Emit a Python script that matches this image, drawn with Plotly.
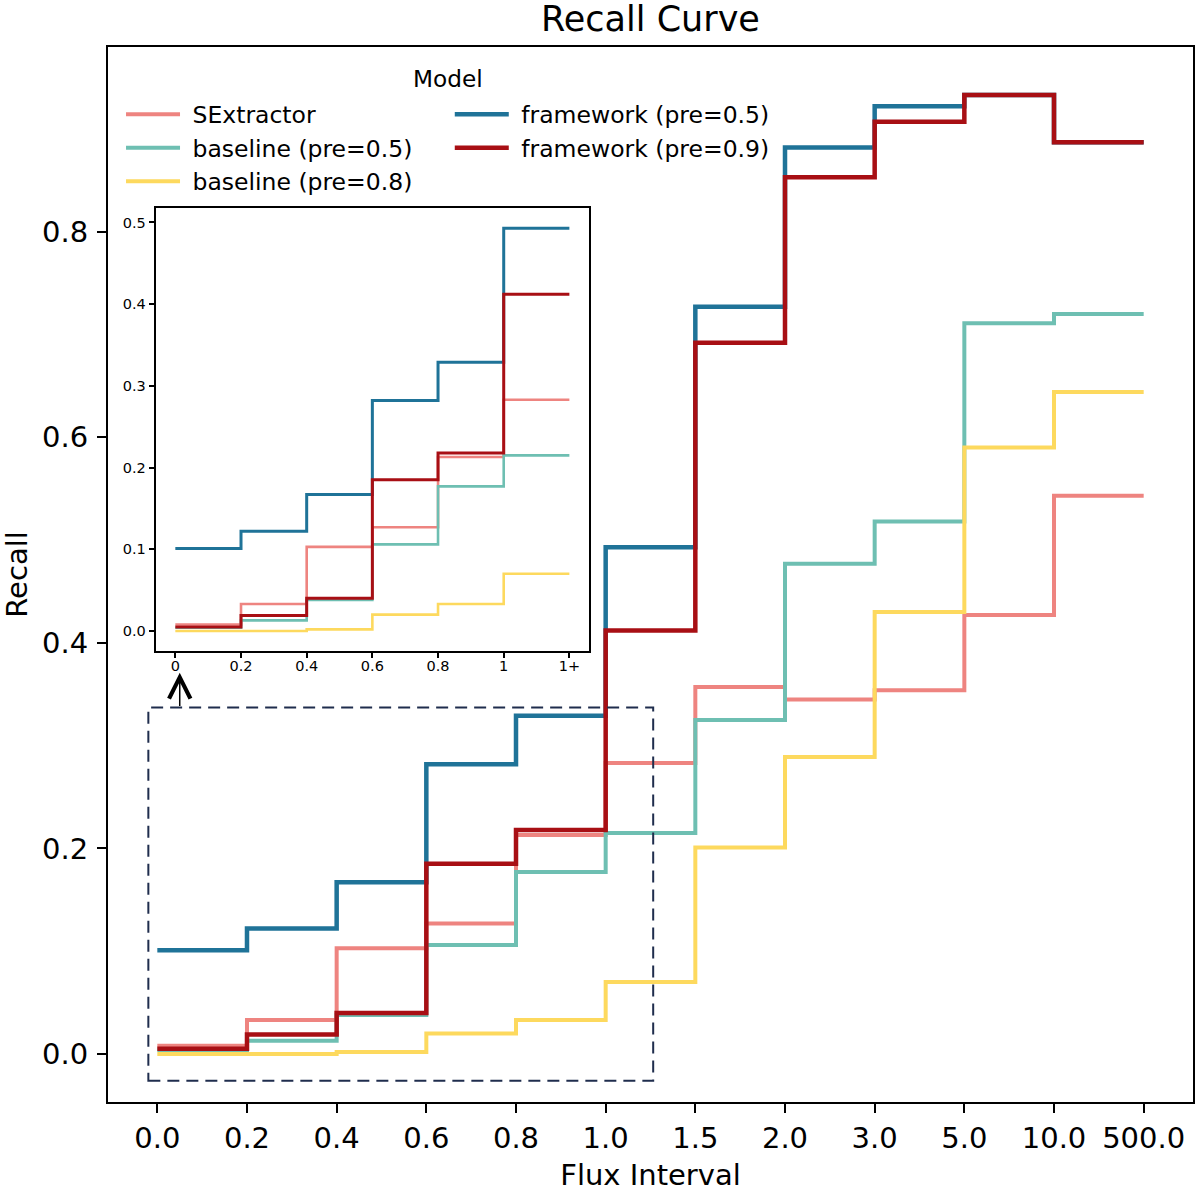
import plotly.graph_objects as go

# ---------------- data ----------------
flux_labels = ["0.0", "0.2", "0.4", "0.6", "0.8", "1.0", "1.5", "2.0", "3.0", "5.0", "10.0", "500.0"]
inset_labels = ["0", "0.2", "0.4", "0.6", "0.8", "1", "1+"]

sextractor = [0.008, 0.033, 0.103, 0.127, 0.213, 0.283, 0.357, 0.345, 0.354, 0.427, 0.543, 0.543]
baseline_05 = [0.004, 0.013, 0.038, 0.106, 0.177, 0.215, 0.325, 0.477, 0.518, 0.711, 0.720, 0.720]
baseline_08 = [0.000, 0.000, 0.002, 0.020, 0.033, 0.070, 0.201, 0.289, 0.430, 0.590, 0.644, 0.644]
framework_05 = [0.101, 0.122, 0.167, 0.282, 0.329, 0.493, 0.727, 0.882, 0.922, 0.933, 0.887, 0.887]
framework_09 = [0.005, 0.019, 0.040, 0.185, 0.218, 0.412, 0.692, 0.853, 0.907, 0.933, 0.887, 0.887]

main_yticks = [0.0, 0.2, 0.4, 0.6, 0.8]
inset_yticks = [0.0, 0.1, 0.2, 0.3, 0.4, 0.5]

series = [
    ("SExtractor", sextractor, "#EE8480", 4.0, 2.6, "legend"),
    ("baseline (pre=0.5)", baseline_05, "#6EBFB2", 4.0, 2.6, "legend"),
    ("baseline (pre=0.8)", baseline_08, "#FDD95E", 4.0, 2.6, "legend"),
    ("framework (pre=0.5)", framework_05, "#1F7398", 4.5, 3.0, "legend2"),
    ("framework (pre=0.9)", framework_09, "#A80F14", 4.5, 3.0, "legend2"),
]

FONT = "DejaVu Sans"
fig = go.Figure()

xs = list(range(len(flux_labels)))
xs_inset = list(range(len(inset_labels)))
for name, vals, color, lw, lw_in, leg in series:
    fig.add_trace(go.Scatter(
        x=xs, y=vals, mode="lines", name="\u00a0" + name, legend=leg,
        line=dict(shape="hv", color=color, width=lw),
    ))
for name, vals, color, lw, lw_in, leg in series:
    inset_vals = vals[:len(inset_labels) - 1] + [vals[len(inset_labels) - 2]]
    fig.add_trace(go.Scatter(
        x=xs_inset, y=inset_vals, mode="lines", name=name, showlegend=False,
        xaxis="x2", yaxis="y2",
        line=dict(shape="hv", color=color, width=lw_in),
    ))

axis_common = dict(showline=True, mirror=True, linecolor="black", linewidth=2,
                   ticks="outside", tickcolor="black", showgrid=False, zeroline=False)

fig.update_layout(
    width=1200, height=1192,
    margin=dict(l=108, r=5, t=47, b=88),
    paper_bgcolor="white", plot_bgcolor="white",
    font=dict(family=FONT, color="black"),
    title=dict(text="Recall Curve", x=0.5, xref="paper", xanchor="center",
               y=1 - 19 / 1192, yref="container", yanchor="middle",
               font=dict(size=35, family=FONT, color="black")),
    xaxis=dict(**axis_common, domain=[0, 1], range=[-0.55, 11.55],
               tickmode="array", tickvals=xs, ticktext=flux_labels,
               ticklen=9, tickwidth=2, tickfont=dict(size=29),
               title=dict(text="Flux Interval", font=dict(size=29), standoff=12)),
    yaxis=dict(**axis_common, domain=[0, 1], range=[-0.0467, 0.9797],
               tickmode="array", tickvals=main_yticks,
               ticktext=[f"{v:.1f}" for v in main_yticks],
               ticklen=9, tickwidth=2, tickfont=dict(size=29), ticklabelstandoff=3,
               title=dict(text="Recall", font=dict(size=29), standoff=10)),
    xaxis2=dict(**axis_common, domain=[0.0439, 0.4434], anchor="y2", range=[-0.3, 6.3],
                tickmode="array", tickvals=xs_inset, ticktext=inset_labels,
                ticklen=5, tickwidth=1.5, tickfont=dict(size=14.5), ticklabelstandoff=-5),
    yaxis2=dict(**axis_common, domain=[0.4273, 0.8474], anchor="x2", range=[-0.0247, 0.5177],
                tickmode="array", tickvals=inset_yticks,
                ticktext=[f"{v:.1f}" for v in inset_yticks],
                ticklen=5, tickwidth=1.5, tickfont=dict(size=14.5)),
    legend=dict(x=0.012, y=0.957, xanchor="left", yanchor="top",
                font=dict(size=23.5, family=FONT), bgcolor="rgba(0,0,0,0)",
                itemwidth=54, tracegroupgap=0),
    legend2=dict(x=0.315, y=0.957, xanchor="left", yanchor="top",
                 font=dict(size=23.5, family=FONT), bgcolor="rgba(0,0,0,0)",
                 itemwidth=54, tracegroupgap=0),
    showlegend=True,
)

# legend title shared by both columns
fig.add_annotation(text="Model", xref="paper", yref="paper", x=0.3137, y=0.9697,
                   xanchor="center", yanchor="middle", showarrow=False,
                   font=dict(size=23.2, family=FONT, color="black"))

# dashed zoom region
fig.add_shape(type="rect", xref="x", yref="y", x0=-0.1, x1=5.53, y0=-0.026, y1=0.337,
              line=dict(color="#1f2d4d", width=2, dash="12px,7px"), fillcolor="rgba(0,0,0,0)")

# arrow pointing to the inset
fig.add_annotation(x=0.25, y=0.371, ax=0.25, ay=0.337, xref="x", yref="y",
                   axref="x", ayref="y", text="", showarrow=True,
                   arrowhead=5, arrowsize=2.8, arrowwidth=1.5, arrowcolor="black")

fig.write_html("out.html")
